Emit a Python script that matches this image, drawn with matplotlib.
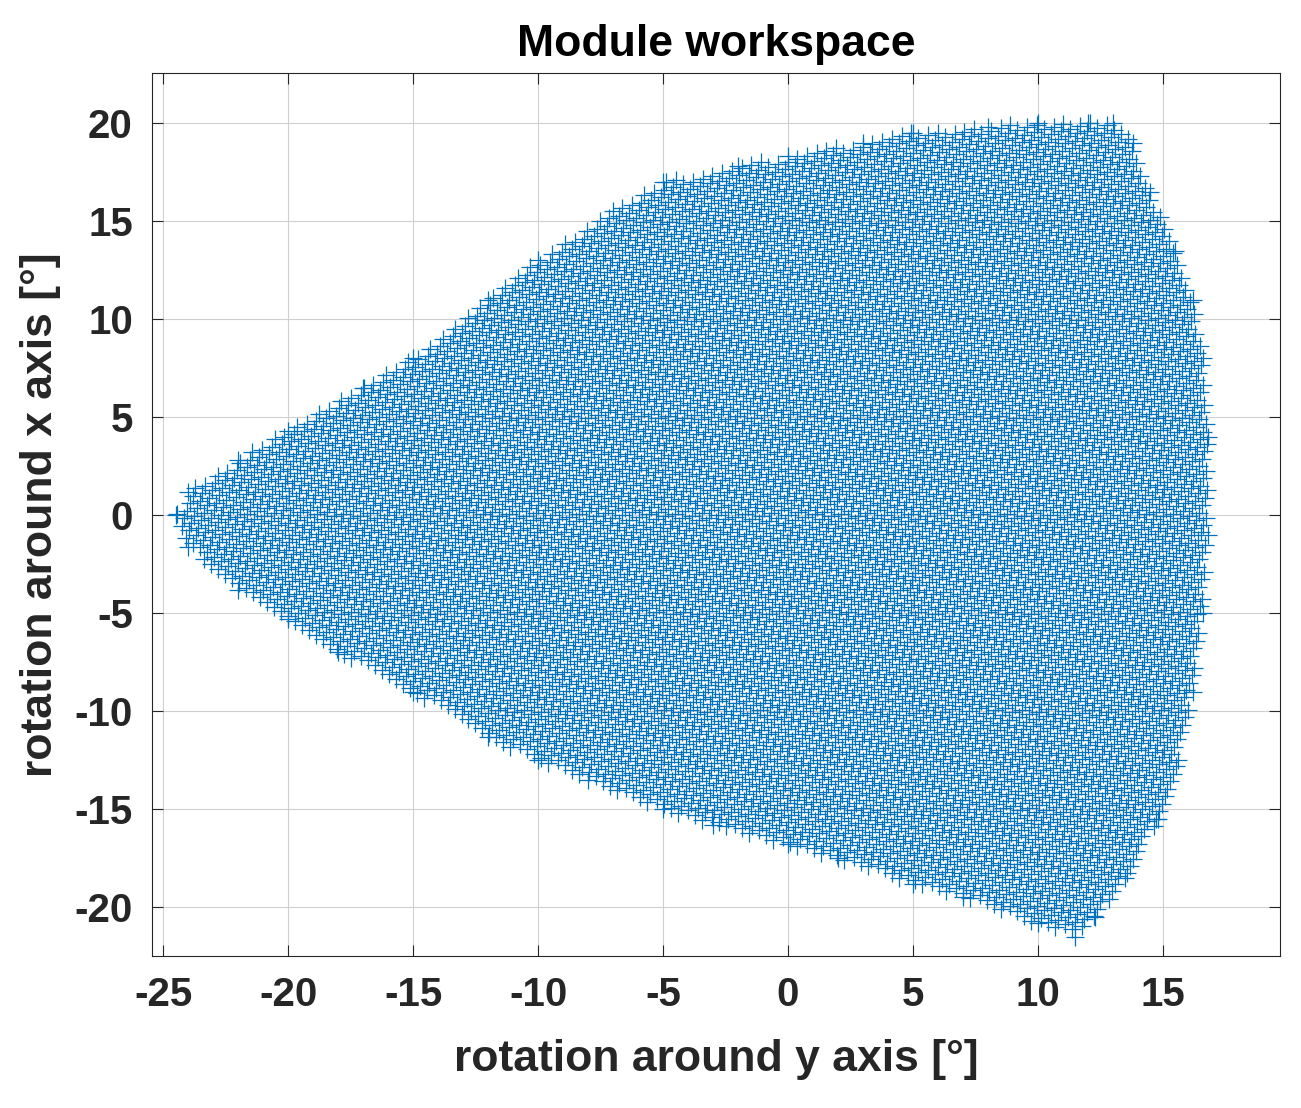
import matplotlib
matplotlib.use("Agg")
import matplotlib.pyplot as plt
import numpy as np
from matplotlib.path import Path

# outline of the workspace (rotation around y, rotation around x), degrees
edge_y = [-24.5, -24, -22, -20, -17, -15, -12, -10, -7, -5, -2, 0, 3, 5, 8, 10, 12, 13, 13.8,
          14.5, 15.5, 16.2, 16.6, 16.8, 16.8, 16.6, 16.2, 15.6, 14.8, 13.5, 12.3, 11.5, 10,
          7, 5, 2, 0, -3, -5, -8, -10, -12, -15, -18, -20, -22, -24]
edge_x = [0, 1.2, 2.8, 4.3, 6.5, 8, 11, 13, 15.5, 17, 17.8, 18.3, 19, 19.5, 19.8, 20, 20, 20,
          19, 16.5, 13.5, 11, 8, 4, -1, -5, -9, -12.5, -15.5, -18.5, -20.5, -21.5, -20.8,
          -19.5, -18.8, -17.5, -16.8, -15.8, -15, -13.5, -12.5, -11.3, -9, -7, -5.3, -3.8, -1.6]

ticks_x = [-25, -20, -15, -10, -5, 0, 5, 10, 15]
ticks_y = [-20, -15, -10, -5, 0, 5, 10, 15, 20]

# sample the enclosed region on a skewed lattice (sweep of two actuator steps)
outline = Path(np.column_stack([edge_y, edge_x]))
i, j = np.meshgrid(np.arange(-130, 130), np.arange(-130, 130))
px = i * 0.39 + j * 0.11
py = i * 0.14 + j * 0.38
pts = np.column_stack([px.ravel(), py.ravel()])
pts = pts[outline.contains_points(pts)]

plt.rcParams['font.family'] = ['Liberation Sans', 'DejaVu Sans']
plt.rcParams['axes.unicode_minus'] = False
fig, ax = plt.subplots(figsize=(13.01, 11.08), dpi=100)
fig.subplots_adjust(left=0.117, right=0.984, top=0.934, bottom=0.137)

ax.plot(pts[:, 0], pts[:, 1], '+', color='#0072BD', markersize=13, mew=0.9)
ax.plot(edge_y, edge_x, '+', color='#0072BD', markersize=13, mew=0.9)

ax.set_xlim(-25.45, 19.7)
ax.set_ylim(-22.5, 22.55)
ax.set_xticks(ticks_x)
ax.set_yticks(ticks_y)
ax.grid(True, color='#d0d0d0', linewidth=0.8)
ax.set_axisbelow(True)
ax.tick_params(labelsize=29, direction='in', length=8, colors='#262626', pad=14)
for lbl in ax.get_xticklabels() + ax.get_yticklabels():
    lbl.set_fontweight('bold')
for s in ax.spines.values():
    s.set_color('#262626')
ax.tick_params(top=True, right=True)

ax.set_xlabel('rotation around y axis [°]', fontsize=32, fontweight='bold', color='#262626', labelpad=18)
ax.set_ylabel('rotation around x axis [°]', fontsize=32, fontweight='bold', color='#262626', labelpad=10)
ax.set_title('Module workspace', fontsize=32, fontweight='bold', pad=12)

fig.savefig('out.png', dpi=100)
